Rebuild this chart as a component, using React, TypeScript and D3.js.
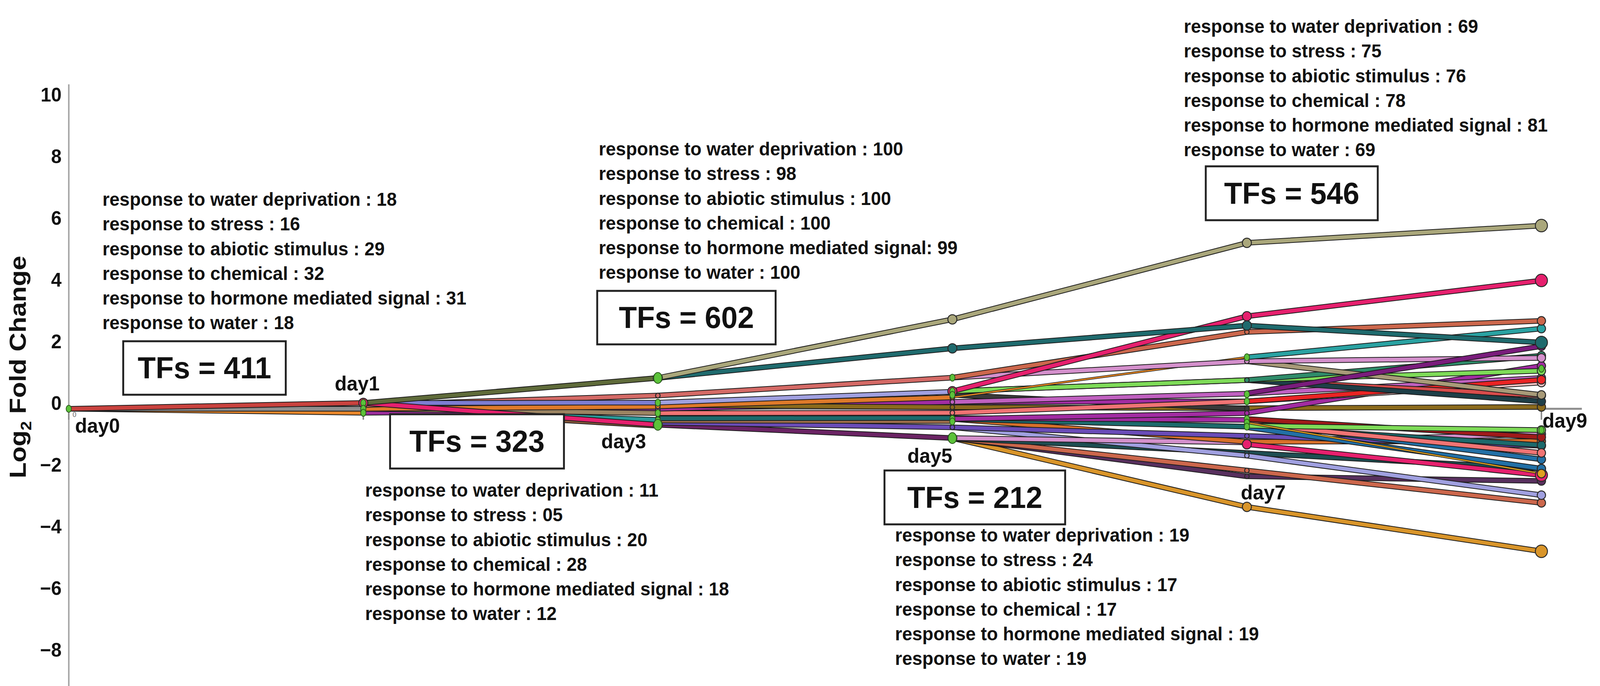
import React from "react";
import * as d3 from "d3";

const W = 4233;
const H = 1757;

const days = ["day0", "day1", "day3", "day5", "day7", "day9"];
const yTicks = [10, 8, 6, 4, 2, 0, -2, -4, -6, -8];

const n = null;
// path segments of the model: [path colour group, log2 FC at day0..day9] (null = segment absent)
const profiles: [string, (number | null)[]][] = [
  // day0 -> day1
  ["orange", [0, -0.13, n, n, n, n]],
  ["gray", [0, 0.0, n, n, n, n]],
  ["red", [0, 0.19, n, n, n, n]],
  // day1 -> day3
  ["brown", [n, 0.0, -0.55, n, n, n]],
  ["teal", [n, 0.0, -0.36, n, n, n]],
  ["purple", [n, -0.13, -0.05, n, n, n]],
  ["tan", [n, 0.0, -0.14, n, n, n]],
  ["orange2", [n, 0.0, 0.07, n, n, n]],
  ["salmon", [n, 0.12, 0.43, n, n, n]],
  ["lavender", [n, 0.19, 0.2, n, n, n]],
  ["crimson", [n, 0.19, -0.52, n, n, n]],
  ["olive", [n, 0.19, 1.0, n, n, n]],
  // day3 -> day5
  ["darkPurple", [n, n, -0.52, -0.95, n, n]],
  ["violet", [n, n, -0.45, -0.6, n, n]],
  ["brown2", [n, n, -0.38, -0.4, n, n]],
  ["tealDark", [n, n, -0.31, -0.3, n, n]],
  ["salmonPink", [n, n, -0.14, -0.13, n, n]],
  ["magenta", [n, n, 0.0, 0.22, n, n]],
  ["gold", [n, n, 0.12, 0.05, 0.02, 0.06]],
  ["orange2", [n, n, 0.08, 0.37, n, n]],
  ["lavender2", [n, n, 0.2, 0.55, n, n]],
  ["salmon", [n, n, 0.43, 1.01, n, n]],
  // day5 -> day9, lower paths
  ["orangeGold", [n, n, n, -0.95, -3.18, -4.62]],
  ["plum", [n, n, n, -0.95, -2.19, -2.34]],
  ["salmonBrown", [n, n, n, -0.95, -2.0, -3.05]],
  ["darkTeal2", [n, n, n, -0.95, -1.43, -1.94]],
  ["lavender2", [n, n, n, -0.6, -1.52, -2.8]],
  ["lilac", [n, n, n, -0.95, -1.09, -0.82]],
  ["orangeBrown", [n, n, n, -0.33, -1.07, -1.05]],
  ["violet", [n, n, n, -0.6, -0.88, -1.2]],
  ["tealDark", [n, n, n, -0.33, -0.58, -1.18]],
  ["magenta", [n, n, n, -0.3, -0.36, n]],
  ["crimson", [n, n, n, n, -1.15, -2.15]],
  ["blue", [n, n, n, n, -0.42, -1.64]],
  ["blue", [n, n, n, n, -0.6, -1.94]],
  ["salmonPink", [n, n, n, n, -0.48, -1.43]],
  ["darkRed", [n, n, n, n, -0.33, -0.92]],
  ["lightGreen", [n, n, n, n, -0.55, -0.69]],
  ["goldThin", [n, n, n, n, -0.45, -2.1]],
  // day5 -> day9, middle and upper paths
  ["darkGray", [n, n, n, 0.45, 0.0, n]],
  ["magenta", [n, n, n, 0.22, 0.24, n]],
  ["magenta", [n, n, n, -0.33, -0.14, 1.39]],
  ["magentaLilac", [n, n, n, 0.22, 0.49, 1.0]],
  ["salmonPink", [n, n, n, -0.13, 0.24, n]],
  ["palePink", [n, n, n, n, 0.24, 0.85]],
  ["brightRed", [n, n, n, n, 0.24, 0.94]],
  ["redSalmon", [n, n, n, n, 0.93, 0.43]],
  ["darkTeal3", [n, n, n, 0.57, 0.93, 0.24]],
  ["lightGreen", [n, n, n, 0.57, 0.93, 1.23]],
  ["seaGreen", [n, n, n, n, 0.93, 1.72]],
  ["khakiGray", [n, n, n, n, 1.54, 0.45]],
  ["orangeThin", [n, n, n, 0.37, 1.67, n]],
  ["lilac", [n, n, n, 1.01, 1.54, 1.65]],
  ["tealLight", [n, n, n, n, 1.67, 2.6]],
  ["purpleDeep", [n, n, n, n, 0.5, 2.03]],
  ["salmonBrown", [n, n, n, 1.01, 2.49, 2.85]],
  ["crimson", [n, n, n, 0.57, 3.0, 4.16]],
  ["tealMain", [n, n, 1.0, 1.96, 2.7, 2.15]],
  ["khaki", [n, n, 1.0, 2.9, 5.38, 5.94]],
];

// split nodes [day index, log2 FC]
const greenNodes: [number, number][] = [
  [0, 0], [1, 0.19], [1, 0.0], [1, -0.13],
  [2, 0.2], [2, -0.14], [2, -0.38],
  [3, 1.01], [3, 0.57], [3, 0.45], [3, -0.33], [3, -0.41],
  [4, 1.67], [4, 0.47], [4, 0.24], [4, -0.33], [4, -0.45], [4, -0.58],
  [5, -0.69], [5, 1.3],
];
const bigGreenNodes: [number, number][] = [[2, 1.0], [2, -0.52], [3, -0.95]];

const termsDay1 = [
  "response to water deprivation : 18",
  "response to stress : 16",
  "response to abiotic stimulus : 29",
  "response to chemical : 32",
  "response to hormone mediated signal : 31",
  "response to water : 18",
];
const termsDay3 = [
  "response to water deprivation : 11",
  "response to stress : 05",
  "response to abiotic stimulus : 20",
  "response to chemical : 28",
  "response to hormone mediated signal : 18",
  "response to water : 12",
];
const termsDay5 = [
  "response to water deprivation : 100",
  "response to stress : 98",
  "response to abiotic stimulus : 100",
  "response to chemical : 100",
  "response to hormone mediated signal: 99",
  "response to water : 100",
];
const termsDay7 = [
  "response to water deprivation : 19",
  "response to stress : 24",
  "response to abiotic stimulus : 17",
  "response to chemical : 17",
  "response to hormone mediated signal : 19",
  "response to water : 19",
];
const termsDay9 = [
  "response to water deprivation : 69",
  "response to stress : 75",
  "response to abiotic stimulus : 76",
  "response to chemical : 78",
  "response to hormone mediated signal : 81",
  "response to water : 69",
];
const tfCounts = [411, 323, 602, 212, 546];

const palette: Record<string, string> = {
  orange: "#e8862a", gray: "#8e8e8e", red: "#c9423e", brown: "#8a5a3c", teal: "#2a9a9a",
  purple: "#9b2d9b", tan: "#9c8462", orange2: "#df7a2a", salmon: "#d46a66", lavender: "#7d7dd2",
  crimson: "#e6206e", olive: "#5f6b3a", darkPurple: "#6b2464", violet: "#6a4cb8", brown2: "#a0704c",
  tealDark: "#1c6a6c", salmonPink: "#f07474", magenta: "#a22ca2", gold: "#8b6a1c", lavender2: "#a0a0e0",
  orangeGold: "#d9952a", plum: "#58305e", salmonBrown: "#cc674c", darkTeal2: "#1e4e52", lilac: "#d490cc",
  orangeBrown: "#d8702a", blue: "#2270a6", darkRed: "#a01a1a", lightGreen: "#7edb58", goldThin: "#e0a020",
  darkGray: "#3a3a3a", magentaLilac: "#c060c0", palePink: "#f6c4c4", brightRed: "#ea2424",
  redSalmon: "#d84c4c", darkTeal3: "#1e3f48", seaGreen: "#2f8c6a", khakiGray: "#a89a78",
  orangeThin: "#f08c22", tealLight: "#2aa2a2", purpleDeep: "#7a1c7c", tealMain: "#1f6b6e", khaki: "#aaa77b",
};
const thinGroups = new Set(["goldThin", "orangeThin"]);
const bigMarkerGroups = new Set(["khaki", "crimson", "orangeGold", "tealMain"]);

const FONT = "'Liberation Sans', Arial, Helvetica, sans-serif";

export default function App() {
  const x = d3.scalePoint<string>().domain(days).range([182, 4078]);
  const y = d3.scaleLinear().domain([-8, 10]).range([1047 + 8 * 79, 1047 - 10 * 79]);

  const line = d3
    .line<number | null>()
    .defined((d) => d != null)
    .x((_, i) => x(days[i]) as number)
    .y((d) => y(d as number));

  const blocks = [
    { lines: termsDay1, tf: tfCounts[0], tx: 271, ty: 527, box: [326, 874, 430, 137] },
    { lines: termsDay3, tf: tfCounts[1], tx: 966, ty: 1272, box: [1032, 1061, 460, 139] },
    { lines: termsDay5, tf: tfCounts[2], tx: 1584, ty: 398, box: [1580, 745, 472, 137] },
    { lines: termsDay7, tf: tfCounts[3], tx: 2368, ty: 1387, box: [2340, 1205, 478, 138] },
    { lines: termsDay9, tf: tfCounts[4], tx: 3132, ty: 84, box: [3190, 426, 455, 138] },
  ];

  const dayLabelPos: [number, number][] = [
    [258, 1090], [945, 982], [1650, 1130], [2460, 1167], [3342, 1261], [4140, 1077],
  ];

  const y0 = y(0);

  return (
    <svg
      viewBox={`0 0 ${W} ${H}`}
      preserveAspectRatio="none"
      style={{ position: "absolute", left: 0, top: 0, width: "100vw", height: "100vh", display: "block" }}
      fontFamily={FONT}
      fontWeight="bold"
    >
      <rect width={W} height={H} fill="#fff" />

      {/* y axis */}
      <line x1={182} x2={182} y1={216} y2={H} stroke="#a6a6a6" strokeWidth={4} />
      {yTicks.map((t) => (
        <text
          key={t}
          x={163}
          y={y(t) - 15}
          textAnchor="end"
          dominantBaseline="central"
          fontSize={50}
          fill="#111"
        >
          {t < 0 ? `\u2212${Math.abs(t)}` : t}
        </text>
      ))}
      <text
        transform="translate(68,940) rotate(-90)"
        textAnchor="middle"
        fontSize={62}
        fill="#111"
        textLength={570}
        lengthAdjust="spacingAndGlyphs"
      >
        Log<tspan fontSize={40} dy={15}>2</tspan>
        <tspan dy={-15}> Fold Change</tspan>
      </text>

      {/* x axis */}
      <line x1={182} x2={4185} y1={y0} y2={y0} stroke="#8c8c8c" strokeWidth={5} />
      {days.map((d) => (
        <line key={d} x1={x(d)} x2={x(d)} y1={y0} y2={y0 + 28} stroke="#8c8c8c" strokeWidth={4} />
      ))}
      <text x={192} y={1068} fontSize={18} fontWeight="normal" fill="#666">0</text>

      {/* paths */}
      {profiles.map(([g, vals], i) => {
        const thin = thinGroups.has(g);
        const dStr = line(vals) || "";
        return (
          <g key={i}>
            <path d={dStr} fill="none" stroke="#1c1c1c" strokeWidth={thin ? 6 : 14} strokeLinejoin="round" />
            <path d={dStr} fill="none" stroke={palette[g]} strokeWidth={thin ? 3 : 10} strokeLinejoin="round" />
          </g>
        );
      })}

      {/* path nodes */}
      {profiles.map(([g, vals], i) =>
        vals.map((v, j) => {
          if (v == null) return null;
          const big = bigMarkerGroups.has(g);
          const end = j === days.length - 1;
          const r = big ? (end ? 16 : 12) : end ? 11 : 6;
          return (
            <circle
              key={`${i}-${j}`}
              cx={x(days[j])}
              cy={y(v)}
              r={r}
              fill={palette[g]}
              stroke="#2a2a2a"
              strokeWidth={2.5}
            />
          );
        })
      )}

      {/* split nodes */}
      {greenNodes.map(([di, v], i) => (
        <ellipse key={`gn${i}`} cx={x(days[di])} cy={y(v)} rx={7} ry={9} fill="#5cc23a" stroke="#2b5a1e" strokeWidth={2} />
      ))}
      {bigGreenNodes.map(([di, v], i) => (
        <ellipse key={`gb${i}`} cx={x(days[di])} cy={y(v)} rx={11} ry={14} fill="#5cc23a" stroke="#2b5a1e" strokeWidth={2} />
      ))}

      {/* day labels */}
      {days.map((d, i) => (
        <text
          key={d}
          x={dayLabelPos[i][0]}
          y={dayLabelPos[i][1]}
          textAnchor="middle"
          dominantBaseline="central"
          fontSize={52}
          fill="#111"
        >
          {d}
        </text>
      ))}

      {/* annotations */}
      {blocks.map((b, i) => (
        <g key={`b${i}`}>
          {b.lines.map((t, k) => (
            <text key={k} x={b.tx} y={b.ty + k * 63.3} fontSize={48} fill="#111">
              {t}
            </text>
          ))}
          <rect
            x={b.box[0]}
            y={b.box[1]}
            width={b.box[2]}
            height={b.box[3]}
            fill="#fff"
            stroke="#222"
            strokeWidth={5}
          />
          <text
            x={b.box[0] + b.box[2] / 2}
            y={b.box[1] + b.box[3] / 2}
            textAnchor="middle"
            dominantBaseline="central"
            fontSize={78}
            fill="#111"
          >
            {`TFs = ${b.tf}`}
          </text>
        </g>
      ))}
    </svg>
  );
}
